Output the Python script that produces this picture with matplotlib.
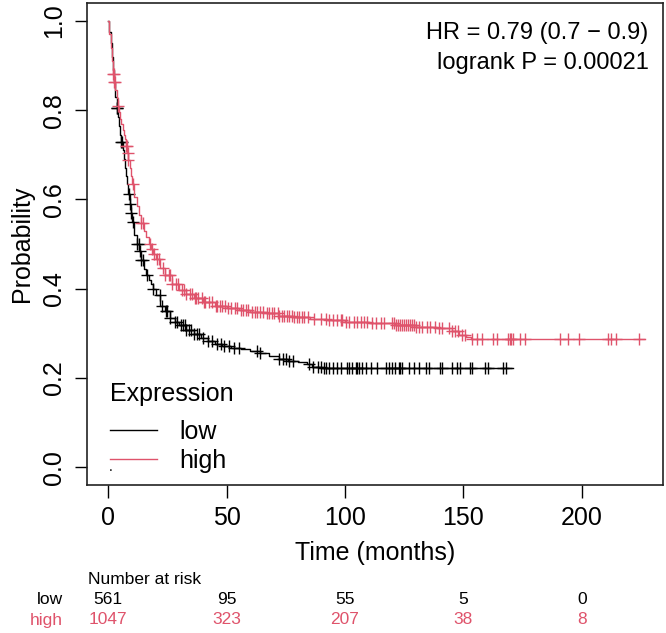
import numpy as np
import matplotlib
matplotlib.use("Agg")
import matplotlib.pyplot as plt
from matplotlib.lines import Line2D
from matplotlib.transforms import blended_transform_factory

plt.rcParams['font.family'] = ['Liberation Sans', 'DejaVu Sans']

# survival curves (time in months, probability)
low_time = [0, 0.5, 1, 1.5, 2, 2.5, 3, 3.5, 4, 4.5, 5, 5.5, 6, 6.5, 7, 7.5, 8, 8.5, 9,
            9.5, 10, 11, 12, 13, 14, 15, 16, 17, 18, 19, 20,
            22, 24, 26, 28, 30, 33, 36, 39, 42, 45, 48, 52, 56, 60, 64, 68, 72, 76, 80,
            84, 86, 90, 171]
low_surv = [1.0, 0.975, 0.95, 0.92, 0.89, 0.86, 0.83, 0.805, 0.785, 0.765, 0.745, 0.728,
            0.71, 0.69, 0.67, 0.652, 0.635, 0.612, 0.59, 0.57, 0.55, 0.52,
            0.50, 0.485, 0.465, 0.445, 0.43, 0.42, 0.41, 0.40, 0.385, 0.36, 0.35, 0.335,
            0.325, 0.318, 0.308, 0.298, 0.29, 0.283, 0.277, 0.272, 0.268, 0.265, 0.26,
            0.255, 0.25, 0.243, 0.238, 0.235, 0.232, 0.225, 0.222, 0.222]

high_time = [0, 0.5, 1, 1.5, 2, 2.5, 3, 3.5, 4, 4.5, 5, 5.5, 6, 6.5, 7, 7.5, 8, 8.5, 9,
             9.5, 10, 11, 12, 13, 14, 15, 16, 17, 18, 19, 20,
             22, 24, 27, 30, 33, 36, 40, 45, 50, 55, 60, 67, 72, 78, 85, 92, 100, 110,
             121, 130, 139, 145, 148, 151, 153, 226.5]
high_surv = [1.0, 0.97, 0.94, 0.91, 0.88, 0.862, 0.845, 0.828, 0.81, 0.795, 0.78, 0.768,
             0.755, 0.745, 0.735, 0.72, 0.705, 0.688, 0.67, 0.652, 0.635, 0.605,
             0.585, 0.565, 0.548, 0.53, 0.515, 0.50, 0.488, 0.477, 0.466, 0.447, 0.43,
             0.41, 0.397, 0.387, 0.379, 0.371, 0.362, 0.356, 0.351, 0.348, 0.345, 0.338,
             0.336, 0.333, 0.33, 0.325, 0.322, 0.318, 0.315, 0.311, 0.305, 0.297, 0.292,
             0.287, 0.287]

# censoring times
low_censor = [3.5, 3.8, 5.5, 5.8, 8.8, 9.2, 9.5, 10.3, 12.2, 12.8, 13.4, 14.0, 14.7, 16.5,
              19.0, 21.8, 22.5, 24.5, 25.0, 26.0, 28.0, 29.0, 30.5, 31.5, 32.5, 33.0, 34.0,
              35.0, 36.0, 37.5, 38.5, 40.0, 42.0, 44.0, 46.0, 47.5, 49.0, 51.0, 53.0, 55.0,
              63.0, 64.0, 72.3, 73.7, 75.1, 76.5, 77.9, 84.9, 86.3, 88.4, 89.8, 91.2, 91.9,
              93.3, 94.7, 96.8, 98.2, 101.0, 101.7, 103.1, 104.5, 105.2, 105.9, 107.3, 108.7,
              110.8, 113.6, 117.1, 118.5, 119.9, 121.3, 122.7, 123.4, 124.1, 126.9, 129.0,
              131.1, 134.0, 135.4, 140.3, 140.8, 145.2, 147.3, 148.7, 152.9, 153.6, 159.2,
              160.5, 166.8, 168.1]
high_censor = [2.0, 2.3, 2.6, 2.9, 4.2, 7.5, 7.8, 8.2, 8.5, 10.3, 14.0, 14.5, 17.5, 18.5,
               19.5, 20.5, 21.5, 23.0, 24.0, 25.5, 26.0, 27.0, 28.5, 29.5, 31.0, 32.0, 33.0,
               34.5, 35.5, 36.5, 37.0, 38.0, 39.5, 40.5, 41.0, 42.5, 44.0, 45.5, 46.0, 47.0,
               48.0, 49.5, 50.5, 52.0, 53.5, 54.5, 56.0, 57.0, 58.0, 59.0, 60.5, 62.0, 63.0,
               64.0, 65.5, 67.0, 68.0, 69.0, 70.0, 71.5, 72.3, 73.4, 74.4, 75.4, 76.5, 77.6,
               78.6, 79.6, 80.7, 81.8, 82.8, 84.2, 87.0, 89.8, 91.9, 93.3, 94.7, 96.8, 98.2,
               98.9, 100.3, 101.7, 103.8, 105.2, 106.6, 108.0, 109.4, 111.5, 112.9, 115.0,
               116.4, 119.9, 120.7, 121.6, 122.4, 123.2, 124.1, 124.9, 125.8, 126.6, 127.5,
               128.3, 129.1, 130.0, 131.1, 132.5, 134.6, 136.0, 138.1, 139.5, 140.9, 143.7,
               145.1, 146.5, 147.9, 149.3, 150.7, 153.5, 155.6, 157.7, 162.6, 164.0, 168.9,
               169.6, 170.3, 171.0, 173.8, 175.9, 190.6, 194.1, 199.0, 210.9, 212.3, 214.4,
               224.2]

risk_times = [0, 50, 100, 150, 200]
risk_low = [561, 95, 55, 5, 0]
risk_high = [1047, 323, 207, 38, 8]

red = '#DF536B'

fig = plt.figure(figsize=(6.66, 6.33), dpi=100)
ax = fig.add_axes([87 / 666, 1 - 485 / 633, 576 / 666, 482 / 633])


def surv_at(times, surv, t):
    idx = np.searchsorted(times, t, side='right') - 1
    return np.asarray(surv)[idx]


for times, surv, cens, col in [(low_time, low_surv, low_censor, 'black'),
                               (high_time, high_surv, high_censor, red)]:
    ax.step(times, surv, where='post', color=col, lw=1.0)
    ax.plot(cens, surv_at(times, surv, cens), ls='none', marker='+',
            ms=9, mew=1.0, color=col)

ax.set_xlim(-9, 234.3)
ax.set_ylim(-0.04, 1.04)
ax.set_xticks([0, 50, 100, 150, 200])
ax.set_yticks([0.0, 0.2, 0.4, 0.6, 0.8, 1.0])
ax.set_yticklabels(['0.0', '0.2', '0.4', '0.6', '0.8', '1.0'], rotation=90, va='center')
ax.tick_params(direction='out', length=9, width=1, labelsize=18, pad=6)
for s in ax.spines.values():
    s.set_linewidth(1.2)
    s.set_color('#222222')
ax.set_xlabel('Time (months)', fontsize=18, labelpad=8)
ax.set_ylabel('Probability', fontsize=18, labelpad=6)

ax.text(0.975, 0.96, 'HR = 0.79 (0.7 \u2212 0.9)\nlogrank P = 0.00021',
        transform=ax.transAxes, ha='right', va='top', fontsize=17, linespacing=1.45)

handles = [Line2D([], [], color='black', lw=1.0), Line2D([], [], color=red, lw=1.0)]
leg = ax.legend(handles, ['low', 'high'], title='Expression', loc='lower left',
                bbox_to_anchor=(0.009, -0.011), frameon=False, fontsize=18,
                title_fontsize=18, handlelength=1.9, handletextpad=0.9,
                labelspacing=0.2, borderaxespad=0.3)
leg._legend_box.align = 'left'
leg._legend_box.sep = 10
ax.text(1, -0.0, '.', fontsize=10, ha='center', va='center')

# number at risk table
tr = blended_transform_factory(ax.transData, fig.transFigure)
fig.text(88 / 666, 1 - 579 / 633, 'Number at risk', fontsize=12.5, va='center')
fig.text(63 / 666, 1 - 600 / 633, 'low', fontsize=12.5, ha='right', va='center')
fig.text(63 / 666, 1 - 620 / 633, 'high', fontsize=12.5, ha='right', va='center', color=red)
for t, nl, nh in zip(risk_times, risk_low, risk_high):
    ax.text(t, 1 - 600 / 633, str(nl), transform=tr, fontsize=12.5, ha='center', va='center')
    ax.text(t, 1 - 620 / 633, str(nh), transform=tr, fontsize=12.5, ha='center', va='center',
            color=red)

fig.savefig('out.png', dpi=100)
